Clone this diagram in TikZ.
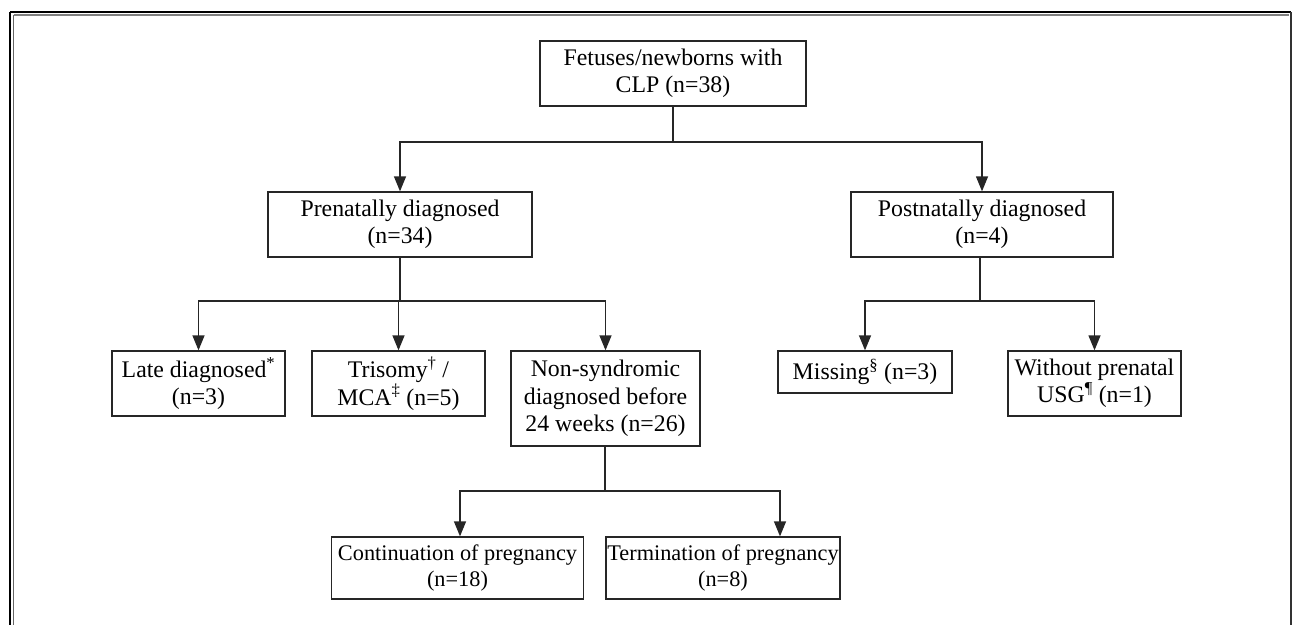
\documentclass[tikz,border=0pt]{standalone}
\usepackage{fontspec}
\setmainfont{Liberation Serif}
\usetikzlibrary{arrows.meta}
\begin{document}
\begin{tikzpicture}[x=1pt,y=-1pt,
  box/.style={draw=black!85, line width=1.3pt, fill=white, align=center, inner sep=0pt,
    font=\fontsize{23.8}{27.5}\selectfont},
  smallbox/.style={box, font=\fontsize{22.3}{26.5}\selectfont},
  arr/.style={draw=black!85, line width=1.3pt, -{Triangle[length=15pt,width=12pt]}},
  ln/.style={draw=black!85, line width=1.3pt}]
\useasboundingbox (0,0) rectangle (1292,625);
% frame
\draw[black, line width=1.6pt] (10,12) -- (1291,12);
\draw[black!50, line width=1.6pt] (13.5,15) -- (1289,15);
\draw[black, line width=1.6pt] (10,12) -- (10,625);
\draw[black!60, line width=1.6pt] (13.5,15) -- (13.5,625);
\draw[black!80, line width=2pt] (1290.5,12) -- (1290.5,625);
% nodes
\node[box, minimum width=266pt, minimum height=65pt] (top) at (673,73.5) {Fetuses/newborns with\\CLP (n=38)};
\node[box, minimum width=264pt, minimum height=65pt] (pre) at (400,224.5) {Prenatally diagnosed\\(n=34)};
\node[box, minimum width=262pt, minimum height=65pt] (post) at (982,224.5) {Postnatally diagnosed\\(n=4)};
\node[box, minimum width=173pt, minimum height=65pt] (late) at (198.5,383.5) {Late diagnosed\textsuperscript{*}\\(n=3)};
\node[box, minimum width=173pt, minimum height=65pt] (tri) at (398.5,383.5) {Trisomy\textsuperscript{†} /\\MCA\textsuperscript{‡} (n=5)};
\node[box, minimum width=189pt, minimum height=95pt] (non) at (605.5,398.5) {Non-syndromic\\diagnosed before\\24 weeks (n=26)};
\node[box, minimum width=174pt, minimum height=42pt] (miss) at (865,372) {Missing\textsuperscript{§} (n=3)};
\node[box, minimum width=173pt, minimum height=65pt] (wo) at (1094.5,383.5) {Without prenatal\\USG\textsuperscript{¶} (n=1)};
\node[smallbox, minimum width=252pt, minimum height=62pt] (cont) at (457.5,568) {Continuation of pregnancy\\(n=18)};
\node[smallbox, minimum width=234pt, minimum height=62pt] (term) at (723,568) {Termination of pregnancy\\(n=8)};
% connectors
\coordinate (j1) at (673,142);
\coordinate (j2) at (400,301);
\coordinate (j3) at (980,301);
\coordinate (j4) at (605,491);
\coordinate (cc) at (460,0);
\coordinate (tt) at (780,0);
\draw[ln] (top.south -| j1) -- (j1);
\draw[arr] (j1) -| (pre.north);
\draw[arr] (j1) -| (post.north);
\draw[ln] (pre.south -| j2) -- (j2);
\draw[arr] (j2) -| (late.north);
\draw[arr] (j2) -| (tri.north);
\draw[arr] (j2) -| (non.north);
\draw[ln] (post.south -| j3) -- (j3);
\draw[arr] (j3) -| (miss.north);
\draw[arr] (j3) -| (wo.north);
\draw[ln] (non.south -| j4) -- (j4);
\draw[arr] (j4) -| (cont.north -| cc);
\draw[arr] (j4) -| (term.north -| tt);
\end{tikzpicture}
\end{document}
